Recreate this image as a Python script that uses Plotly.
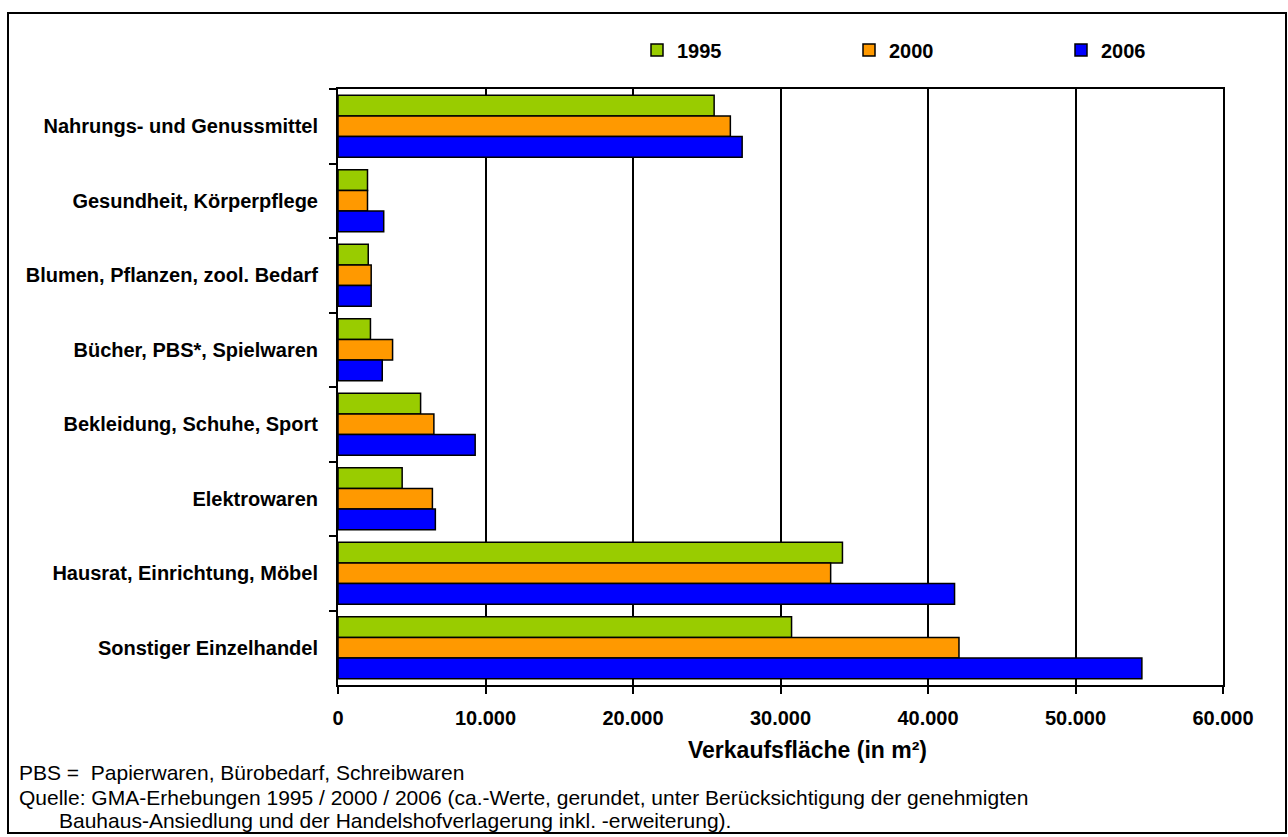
import plotly.graph_objects as go

# Verkaufsfläche nach Branchen (m²), Erhebungsjahre 1995 / 2000 / 2006
categories = [
    "Nahrungs- und Genussmittel",
    "Gesundheit, Körperpflege",
    "Blumen, Pflanzen, zool. Bedarf",
    "Bücher, PBS*, Spielwaren",
    "Bekleidung, Schuhe, Sport",
    "Elektrowaren",
    "Hausrat, Einrichtung, Möbel",
    "Sonstiger Einzelhandel",
]
years = ["1995", "2000", "2006"]
flaeche_1995 = [25500, 2000, 2050, 2200, 5600, 4350, 34200, 30750]
flaeche_2000 = [26600, 2000, 2250, 3700, 6500, 6400, 33400, 42100]
flaeche_2006 = [27400, 3100, 2250, 3000, 9300, 6600, 41800, 54500]
series = [flaeche_1995, flaeche_2000, flaeche_2006]
colors = ["#99CC00", "#FF9900", "#0000FF"]

x_ticks = [0, 10000, 20000, 30000, 40000, 50000, 60000]

FONT = "Liberation Sans, Arial, sans-serif"

fig = go.Figure()
for name, vals, col in zip(years, series, colors):
    fig.add_trace(go.Bar(
        y=categories, x=vals, name=name, orientation="h",
        marker=dict(color=col, line=dict(color="black", width=1.5)),
    ))

W, H = 1288, 837
L, R, T, B = 338, 65, 89, 152
pw, ph = W - L - R, H - T - B


def px(xp):
    return (xp - L) / pw


def py(yp):
    return (H - B - yp) / ph


fig.update_layout(
    width=W, height=H,
    margin=dict(l=L, r=R, t=T, b=B, autoexpand=False),
    paper_bgcolor="white", plot_bgcolor="white",
    barmode="group", bargap=0.17, bargroupgap=0,
    separators=",.",
    font=dict(family=FONT, color="black"),
    showlegend=True,
    legend=dict(
        orientation="h", x=px(637), xanchor="left", y=py(50), yanchor="middle",
        entrywidth=167, entrywidthmode="pixels",
        font=dict(family=FONT, size=20, weight="bold", color="black"),
        bgcolor="rgba(0,0,0,0)", traceorder="normal",
    ),
    xaxis=dict(
        range=[0, 60000], tickvals=x_ticks, tickformat=",.0f",
        showgrid=True, gridcolor="black", gridwidth=1.5,
        showline=True, linecolor="black", linewidth=2, mirror=True,
        ticks="outside", ticklen=7, tickwidth=1.5, tickcolor="black",
        tickfont=dict(family=FONT, size=20, weight="bold", color="black"),
        ticklabelstandoff=7, zeroline=False, automargin=False,
    ),
    yaxis=dict(
        type="category", autorange="reversed", tickson="boundaries",
        showgrid=False,
        showline=True, linecolor="black", linewidth=2, mirror=True,
        ticks="outside", ticklen=7, tickwidth=1.5, tickcolor="black",
        tickfont=dict(family=FONT, size=20, weight="bold", color="black"),
        ticklabelstandoff=14, automargin=False,
    ),
)

# Achsentitel
fig.add_annotation(
    text="Verkaufsfläche (in m²)", xref="paper", yref="paper",
    x=px(807), y=py(750), xanchor="center", yanchor="middle", showarrow=False,
    font=dict(family=FONT, size=23, weight="bold", color="black"),
)

# Fußnoten
notes = [
    ("PBS =\u00a0\u00a0Papierwaren, Bürobedarf, Schreibwaren", 17, 772),
    ("Quelle: GMA-Erhebungen 1995 / 2000 / 2006 (ca.-Werte, gerundet, unter Berücksichtigung der genehmigten", 17, 797),
    ("Bauhaus-Ansiedlung und der Handelshofverlagerung inkl. -erweiterung).", 57, 821),
]
for txt, xx, yy in notes:
    fig.add_annotation(
        text=txt, xref="paper", yref="paper", x=px(xx), y=py(yy),
        xanchor="left", yanchor="middle", showarrow=False,
        font=dict(family=FONT, size=21, color="black"),
    )

# Rahmen um die gesamte Grafik
fig.add_shape(
    type="rect", xref="paper", yref="paper",
    x0=px(8), x1=px(1286), y0=py(833), y1=py(13),
    line=dict(color="black", width=2), fillcolor="rgba(0,0,0,0)", layer="above",
)

fig.write_html("out.html")
